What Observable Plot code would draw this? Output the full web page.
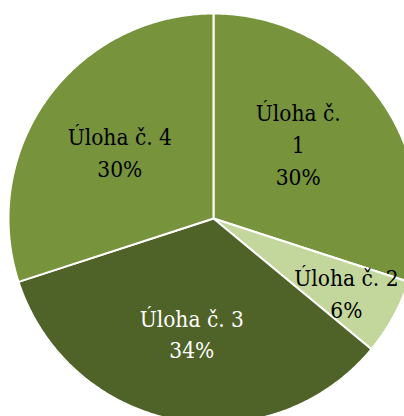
<!DOCTYPE html>
<html>
<head>
<meta charset="utf-8">
<script src="https://cdn.jsdelivr.net/npm/d3@7"></script>
<script src="https://cdn.jsdelivr.net/npm/@observablehq/plot@0.6"></script>
<style>
  html, body { margin: 0; padding: 0; background: #ffffff; }
  svg { display: block; }
</style>
</head>
<body>
<div id="chart"></div>
<script>
// Data
const categories = ["Úloha č. 1", "Úloha č. 2", "Úloha č. 3", "Úloha č. 4"];
const percents = [30, 6, 34, 30];
const colors = ["#77933C", "#C3D69B", "#4F6228", "#77933C"];
const textColors = ["#000000", "#000000", "#ffffff", "#000000"];

const W = 404, H = 416;
const CX = 213, CY = 218, R = 205;
const FONT = "'DejaVu Serif Condensed', 'Liberation Serif', serif";

const pie = d3.pie().sort(null).value(d => d.value)(
  categories.map((name, i) => ({name, value: percents[i], i}))
);

// Build slice outlines in pixel-offset units (x right, y down from center)
const slices = pie.map(p => {
  const pts = [{x: 0, y: 0}];
  const n = Math.max(2, Math.ceil((p.endAngle - p.startAngle) / 0.01));
  for (let k = 0; k <= n; k++) {
    const a = p.startAngle + (p.endAngle - p.startAngle) * k / n;
    pts.push({x: R * Math.sin(a), y: -R * Math.cos(a)});
  }
  return {p, pts};
});

const labels = pie.map(p => {
  const mid = (p.startAngle + p.endAngle) / 2;
  const frac = p.data.value < 10 ? 0.74 : 0.565;
  const wrapName = p.data.i === 0;
  const name = wrapName ? p.data.name.replace(/ (\S+)$/, "\n$1") : p.data.name;
  return {
    x: R * frac * Math.sin(mid),
    y: -R * frac * Math.cos(mid),
    text: `${name}\n${p.data.value}%`,
    color: textColors[p.data.i],
    wrapped: wrapName
  };
});

const chart = Plot.plot({
  width: W,
  height: H,
  margin: 0,
  style: {background: "#ffffff"},
  x: {domain: [-CX, W - CX], range: [0, W], axis: null},
  y: {domain: [H - CY, -CY], range: [H, 0], axis: null},
  marks: [
    ...slices.map(s => Plot.line(s.pts, {
      x: "x", y: "y",
      curve: "linear-closed",
      fill: colors[s.p.data.i],
      stroke: "#ffffff",
      strokeWidth: 2,
      strokeLinejoin: "round"
    })),
    Plot.text(labels.filter(d => !d.wrapped), {
      x: "x", y: "y", text: "text", fill: "color",
      fontFamily: FONT, fontSize: 22.5, lineHeight: 1.42,
      lineAnchor: "middle", textAnchor: "middle"
    }),
    Plot.text(labels.filter(d => d.wrapped), {
      x: "x", y: "y", text: "text", fill: "color",
      dx: -9, dy: -8,
      fontFamily: FONT, fontSize: 22.5, lineHeight: 1.42,
      lineAnchor: "middle", textAnchor: "middle"
    })
  ]
});

document.getElementById("chart").appendChild(chart);
</script>
</body>
</html>
